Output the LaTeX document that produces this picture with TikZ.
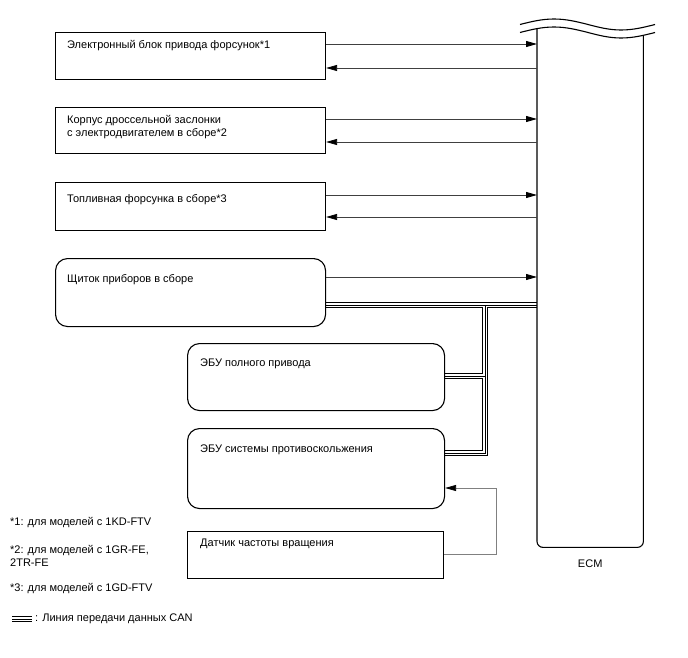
\documentclass[tikz,border=0pt]{standalone}
\usepackage{fontspec}
\setmainfont{Liberation Sans}
\usetikzlibrary{arrows.meta, positioning}
\pgfdeclarelayer{bg}
\pgfsetlayers{bg,main}

\begin{document}
\begin{tikzpicture}[x=1pt, y=-1pt,
    box/.style={draw, line width=1.1pt, anchor=north west, inner sep=0pt, minimum width=270pt},
    rbox/.style={box, rounded corners=12pt},
    txt/.style={anchor=north west, inner sep=0pt, align=left, font=\fontsize{11}{13.5}\selectfont},
    sig/.style={line width=0.8pt, draw=black!75, -{Triangle[length=11pt, width=6pt, color=black]}},
    fb/.style={sig, draw=black!50},
    can/.style={line width=6.4pt, draw=black, postaction={draw=white, line width=4.2pt}, postaction={draw=black, line width=1pt}}]
    \useasboundingbox (0,0) rectangle (688,658);

    % ECM
    \node[anchor=north west, minimum width=106pt, minimum height=518pt] (ecm) at (537,29) {};
    \draw[line width=1.1pt, rounded corners=6pt] (ecm.north west) -- (ecm.south west) -- (ecm.south east) -- ([yshift=-6.4pt]ecm.north east);
    \draw[line width=1.1pt] (520,24.5) sin (554,19) cos (588,24.5) sin (621,30) cos (655,24.5);
    \draw[line width=1.1pt] (520,32.5) sin (554,27) cos (588,32.5) sin (621,38) cos (655,32.5);
    \node[txt, below=12pt of ecm] (ecm-t) {ECM};

    % blocks
    \node[box, minimum height=47pt] (inj) at (55,32) {};
    \node[box, minimum height=46pt] (thr) at (55,107) {};
    \node[box, minimum height=48pt] (fuel) at (55,182) {};
    \node[rbox, minimum height=68pt] (meter) at (55,258) {};
    \node[rbox, minimum width=257pt, minimum height=67pt] (awd) at (187,343) {};
    \node[rbox, minimum width=257pt, minimum height=80pt] (vsc) at (187,428) {};
    \node[box, minimum width=256pt, minimum height=47pt] (spd) at (187,531) {};

    \node[txt] (inj-t) at ([xshift=12pt, yshift=-8pt]inj.north west) {Электронный блок привода форсунок*1};
    \node[txt] (thr-t) at ([xshift=12pt, yshift=-8pt]thr.north west) {Корпус дроссельной заслонки\\с электродвигателем в сборе*2};
    \node[txt] (fuel-t) at ([xshift=12pt, yshift=-12pt]fuel.north west) {Топливная форсунка в сборе*3};
    \node[txt] (meter-t) at ([xshift=12pt, yshift=-16pt]meter.north west) {Щиток приборов в сборе};
    \node[txt] (awd-t) at ([xshift=13pt, yshift=-16pt]awd.north west) {ЭБУ полного привода};
    \node[txt] (vsc-t) at ([xshift=13pt, yshift=-17pt]vsc.north west) {ЭБУ системы противоскольжения};
    \node[txt] (spd-t) at ([xshift=13pt, yshift=-8pt]spd.north west) {Датчик частоты вращения};

    % signal lines
    \foreach \b/\ya/\yb in {inj/12/36, thr/12/35, fuel/13/35} {
        \coordinate (out) at ([yshift=-\ya pt]\b.north east);
        \coordinate (back) at ([yshift=-\yb pt]\b.north east);
        \draw[sig] (out) -- (out -| ecm.west);
        \draw[sig] (back -| ecm.west) -- (back);
    }
    \coordinate (mout) at ([yshift=-19pt]meter.north east);
    \draw[sig] (mout) -- (mout -| ecm.west);

    \coordinate (spdout) at ([yshift=-23pt]spd.north east);
    \coordinate (vscin) at ([yshift=-60pt]vsc.north east);
    \draw[fb] (spdout) -- +(52,0) |- (vscin);

    % CAN
    \coordinate (tap) at (485,305);
    \coordinate (awdcan) at ([yshift=-33pt]awd.north east);
    \coordinate (vsccan) at ([yshift=-25pt]vsc.north east);
    \begin{pgfonlayer}{bg}
    \draw[can] (meter.east |- tap) -- (tap -| ecm.west)
        (tap) -- (tap |- vsccan) -- (vsccan)
        (awdcan) -- (awdcan -| tap);
    \end{pgfonlayer}

    % notes
    \node[txt, anchor=west] (n1) at (10,523) {*1: для моделей с 1KD-FTV};
    \node[txt, anchor=west] (n2) at (10,556) {*2: для моделей с 1GR-FE,\\2TR-FE};
    \node[txt, anchor=west] (n3) at (10,589) {*3: для моделей с 1GD-FTV};
    \node[txt, anchor=west] (leg) at (35,619) {: Линия передачи данных CAN};
    \draw[can] ([xshift=-23pt]leg.west) -- ([xshift=-3pt]leg.west);
\end{tikzpicture}
\end{document}
